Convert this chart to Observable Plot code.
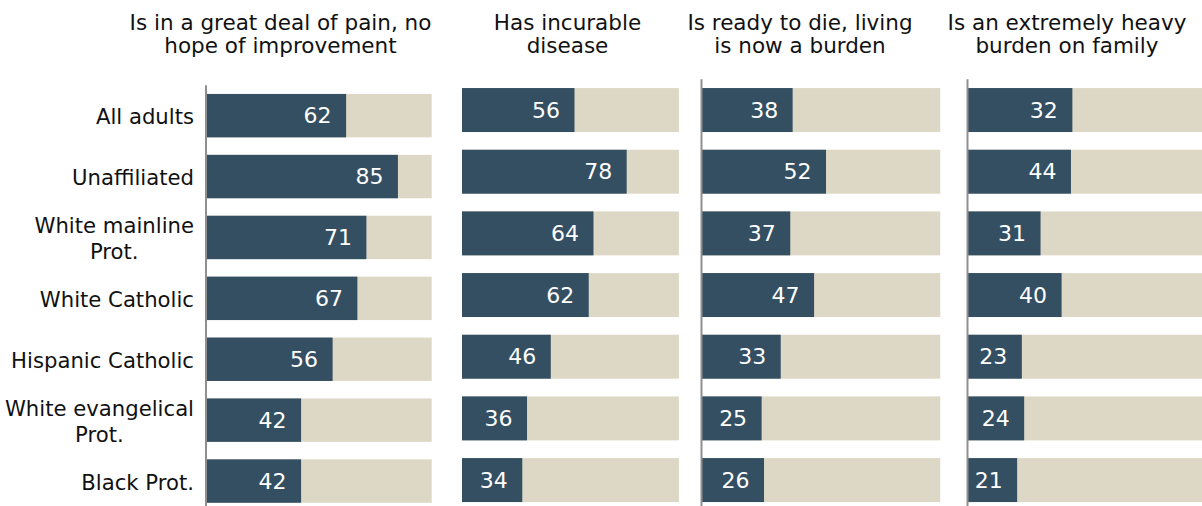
<!DOCTYPE html>
<html>
<head>
<meta charset="utf-8">
<script src="https://cdn.jsdelivr.net/npm/d3@7"></script>
<script src="https://cdn.jsdelivr.net/npm/@observablehq/plot@0.6"></script>
<style>
  html, body { margin: 0; padding: 0; background: #fff; }
  #chart { position: relative; width: 1202px; height: 506px; overflow: hidden;
           font-family: "DejaVu Sans", Verdana, sans-serif; }
  .panel { position: absolute; top: 0; }
  .title { position: absolute; top: 10.7px; font-size: 21.5px; line-height: 23.6px;
           text-align: center; color: #111; white-space: pre; transform: translateX(-50%); }
</style>
</head>
<body>
<div id="chart"></div>
<script>
// ---- data ----
const categories = ["All adults", "Unaffiliated", "White mainline\nProt.", "White Catholic",
                    "Hispanic Catholic", "White evangelical\nProt.", "Black Prot."];
const facetTitles = ["Is in a great deal of pain, no\nhope of improvement",
                     "Has incurable\ndisease",
                     "Is ready to die, living\nis now a burden",
                     "Is an extremely heavy\nburden on family"];
const painValues      = [62, 85, 71, 67, 56, 42, 42];
const incurableValues = [56, 78, 64, 62, 46, 36, 34];
const readyValues     = [38, 52, 37, 47, 33, 25, 26];
const burdenBars      = [44.6, 44, 31, 40, 23, 24, 21];   // bar lengths as drawn
const burdenLabels    = [32, 44, 31, 40, 23, 24, 21];     // printed numbers
const fullScale = 100;

const series = [
  {values: painValues, labels: painValues},
  {values: incurableValues, labels: incurableValues},
  {values: readyValues, labels: readyValues},
  {values: burdenBars, labels: burdenLabels}
];

// ---- layout ----
const H = 512;
const layouts = [
  {left: 0,   width: 432, marginLeft: 206.5, marginRight: 0,   xRange: [206.5, 431.7], top: 85.2, bottom: 511.5, rule: true,  yLabels: true,  titleX: 280.5},
  {left: 440, width: 240, marginLeft: 22,    marginRight: 1,   xRange: [1.6, 238.9],   top: 79.2, bottom: 510.9, rule: false, yLabels: false, titleX: 567.5},
  {left: 690, width: 252, marginLeft: 12,    marginRight: 1.5, xRange: [12, 250.5],    top: 79.2, bottom: 510.9, rule: true,  yLabels: false, titleX: 800},
  {left: 955, width: 247, marginLeft: 13,    marginRight: 0,   xRange: [13, 247],      top: 79.2, bottom: 510.9, rule: true,  yLabels: false, titleX: 1067}
];

const dark = "#344f62";
const beige = "#ddd8c6";
const chart = document.getElementById("chart");

series.forEach((s, k) => {
  const L = layouts[k];
  const rows = categories.map((c, i) => ({category: c, value: s.values[i], label: s.labels[i]}));
  const svg = Plot.plot({
    width: L.width,
    height: H,
    marginLeft: L.marginLeft,
    marginRight: L.marginRight,
    marginTop: L.top,
    marginBottom: H - L.bottom,
    x: {domain: [0, fullScale], range: L.xRange, axis: null},
    y: {domain: categories, paddingInner: 0.287, paddingOuter: 0.1435, round: false, axis: null},
    style: {fontFamily: "'DejaVu Sans', Verdana, sans-serif", fontSize: "21px", background: "transparent", color: "#111"},
    marks: [
      Plot.barX(rows, {x1: 0, x2: fullScale, y: "category", fill: beige, clip: true}),
      Plot.barX(rows, {x1: 0, x2: "value", y: "category", fill: dark, clip: true}),
      Plot.text(rows, {x: "value", y: "category", text: d => String(d.label), textAnchor: "end",
                       dx: -15, fill: "white", fontSize: 22}),
      L.rule ? Plot.ruleX([0], {stroke: "#8f8f8f", strokeWidth: 2, dx: -1}) : null,
      L.yLabels ? Plot.axisY({tickSize: 0, tickPadding: 13, fontSize: 21.2, lineHeight: 1.22,
                              label: null, fill: "#111"}) : null
    ]
  });
  svg.classList.add("panel");
  svg.style.left = L.left + "px";
  svg.style.position = "absolute";
  svg.style.top = "0px";
  chart.appendChild(svg);

  // center the lines of multi-line category labels, keeping the widest line right-aligned
  svg.querySelectorAll('[aria-label="y-axis tick label"] text').forEach(t => {
    if (t.querySelectorAll("tspan").length > 1) {
      const w = t.getBBox().width;
      t.setAttribute("text-anchor", "middle");
      t.setAttribute("transform", (t.getAttribute("transform") || "") + ` translate(${-w / 2},0)`);
    }
  });

  const title = document.createElement("div");
  title.className = "title";
  title.style.left = L.titleX + "px";
  title.textContent = facetTitles[k];
  chart.appendChild(title);
});
</script>
</body>
</html>
